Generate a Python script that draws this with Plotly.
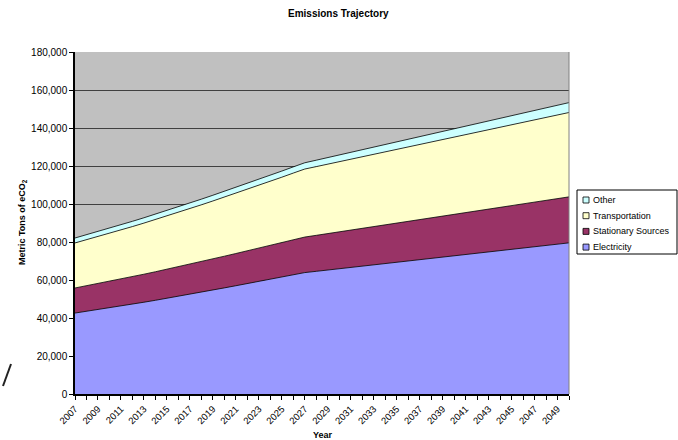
import plotly.graph_objects as go

# Years on the category axis
years = list(range(2007, 2051))

# Annual emissions by source (metric tons of eCO2), stacked bottom to top
electricity = [42600, 43500, 44420, 45360, 46320, 47300, 48300, 49320, 50360, 51420,
               52500, 53610, 54730, 55850, 56980, 58120, 59270, 60430, 61600, 62780,
               63900, 64570, 65260, 65940, 66610, 67300, 67980, 68650, 69340, 70020,
               70700, 71370, 72060, 72740, 73410, 74100, 74780, 75450, 76140, 76820,
               77500, 78170, 78860, 79540]
stationary = [13200, 13450, 13700, 13960, 14220, 14480, 14750, 15020, 15290, 15560,
              15830, 16110, 16390, 16670, 16950, 17230, 17520, 17810, 18100, 18400,
              18700, 18940, 19180, 19420, 19660, 19900, 20140, 20380, 20620, 20860,
              21100, 21340, 21580, 21820, 22060, 22300, 22540, 22780, 23020, 23260,
              23500, 23740, 23980, 24220]
transportation = [23700, 24200, 24720, 25250, 25790, 26340, 26900, 27470, 28050, 28640,
                  29240, 29850, 30470, 31100, 31740, 32390, 33050, 33720, 34400, 35090,
                  35800, 36170, 36540, 36920, 37290, 37670, 38040, 38420, 38790, 39160,
                  39540, 39910, 40290, 40660, 41040, 41410, 41780, 42160, 42530, 42910,
                  43280, 43660, 44030, 44400]
other = [2600, 2630, 2660, 2700, 2730, 2770, 2800, 2840, 2870, 2910,
         2940, 2980, 3010, 3050, 3080, 3120, 3150, 3190, 3220, 3260,
         3300, 3380, 3460, 3550, 3630, 3710, 3800, 3880, 3960, 4040,
         4130, 4210, 4290, 4380, 4460, 4540, 4630, 4710, 4790, 4870,
         4960, 5040, 5120, 5200]

series_names = ["Electricity", "Stationary Sources", "Transportation", "Other"]
series_colors = ["#9999FF", "#993366", "#FFFFCC", "#CCFFFF"]
series_values = [electricity, stationary, transportation, other]

FONT = "Liberation Sans, Arial, sans-serif"

# Figure geometry (pixels)
W, H = 678, 440
ML, MR, MT, MB = 75, 109, 52, 46
PW, PH = W - ML - MR, H - MT - MB


def px_x(px):
    return (px - ML) / PW


def px_y(py):
    return (H - MB - py) / PH


fig = go.Figure()
for name, color, vals in zip(series_names, series_colors, series_values):
    fig.add_trace(go.Scatter(
        x=years, y=vals, name=name, mode="lines",
        stackgroup="emissions", fillcolor=color,
        line=dict(color="#000000", width=0.8),
        showlegend=False,
    ))

shapes = [
    # right border of the plot area
    dict(type="line", xref="paper", yref="paper", x0=1, x1=1, y0=0, y1=1,
         line=dict(color="#808080", width=1)),
    # stray stroke at the lower left edge
    dict(type="line", xref="paper", yref="paper",
         x0=px_x(3), y0=px_y(386), x1=px_x(11), y1=px_y(364),
         line=dict(color="#222222", width=2)),
    # legend frame
    dict(type="rect", xref="paper", yref="paper",
         x0=px_x(577), x1=px_x(677), y0=px_y(190), y1=px_y(254),
         fillcolor="#FFFFFF", line=dict(color="#000000", width=1), layer="above"),
]

annotations = [
    dict(text="<b>Emissions Trajectory</b>", xref="paper", yref="paper",
         x=px_x(338), y=px_y(14), xanchor="center", yanchor="middle",
         showarrow=False, font=dict(family=FONT, size=10)),
    dict(text="<b>Year</b>", xref="paper", yref="paper",
         x=px_x(323), y=px_y(435), xanchor="center", yanchor="middle",
         showarrow=False, font=dict(family=FONT, size=9)),
    dict(text="<b>Metric Tons of eCO<sub>2</sub></b>", xref="paper", yref="paper",
         x=px_x(22), y=px_y(222), xanchor="center", yanchor="middle",
         textangle=-90, showarrow=False, font=dict(family=FONT, size=9)),
]

# Legend entries, top to bottom
legend_rows = list(zip(series_names, series_colors))[::-1]
for i, (name, color) in enumerate(legend_rows):
    cy = 200 + i * 15.7
    shapes.append(dict(type="rect", xref="paper", yref="paper",
                       x0=px_x(583), x1=px_x(589), y0=px_y(cy - 3), y1=px_y(cy + 3),
                       fillcolor=color, line=dict(color="#000000", width=0.8),
                       layer="above"))
    annotations.append(dict(text=name, xref="paper", yref="paper",
                            x=px_x(591), y=px_y(cy), xanchor="left", yanchor="middle",
                            showarrow=False, font=dict(family=FONT, size=9)))

fig.update_layout(
    width=W, height=H,
    margin=dict(l=ML, r=MR, t=MT, b=MB, autoexpand=False),
    paper_bgcolor="#FFFFFF",
    plot_bgcolor="#C0C0C0",
    font=dict(family=FONT, size=10, color="#000000"),
    showlegend=False,
    xaxis=dict(
        range=[2007, 2050],
        tickmode="linear", tick0=2007, dtick=2,
        tickangle=-45, ticks="outside", ticklen=4, tickcolor="#000000",
        minor=dict(dtick=1, tick0=2007, ticks="outside", ticklen=4, tickcolor="#000000"),
        showline=True, linecolor="#000000", linewidth=1.5,
        showgrid=False, zeroline=False,
        tickfont=dict(family=FONT, size=9.5),
    ),
    yaxis=dict(
        range=[0, 180000], dtick=20000, tickformat=",",
        ticks="outside", ticklen=4, tickcolor="#000000",
        showline=True, linecolor="#000000", linewidth=1.5,
        showgrid=True, gridcolor="#404040", gridwidth=1,
        zeroline=False,
        tickfont=dict(family=FONT, size=10),
    ),
    annotations=annotations,
    shapes=shapes,
)

fig.write_html("out.html")
